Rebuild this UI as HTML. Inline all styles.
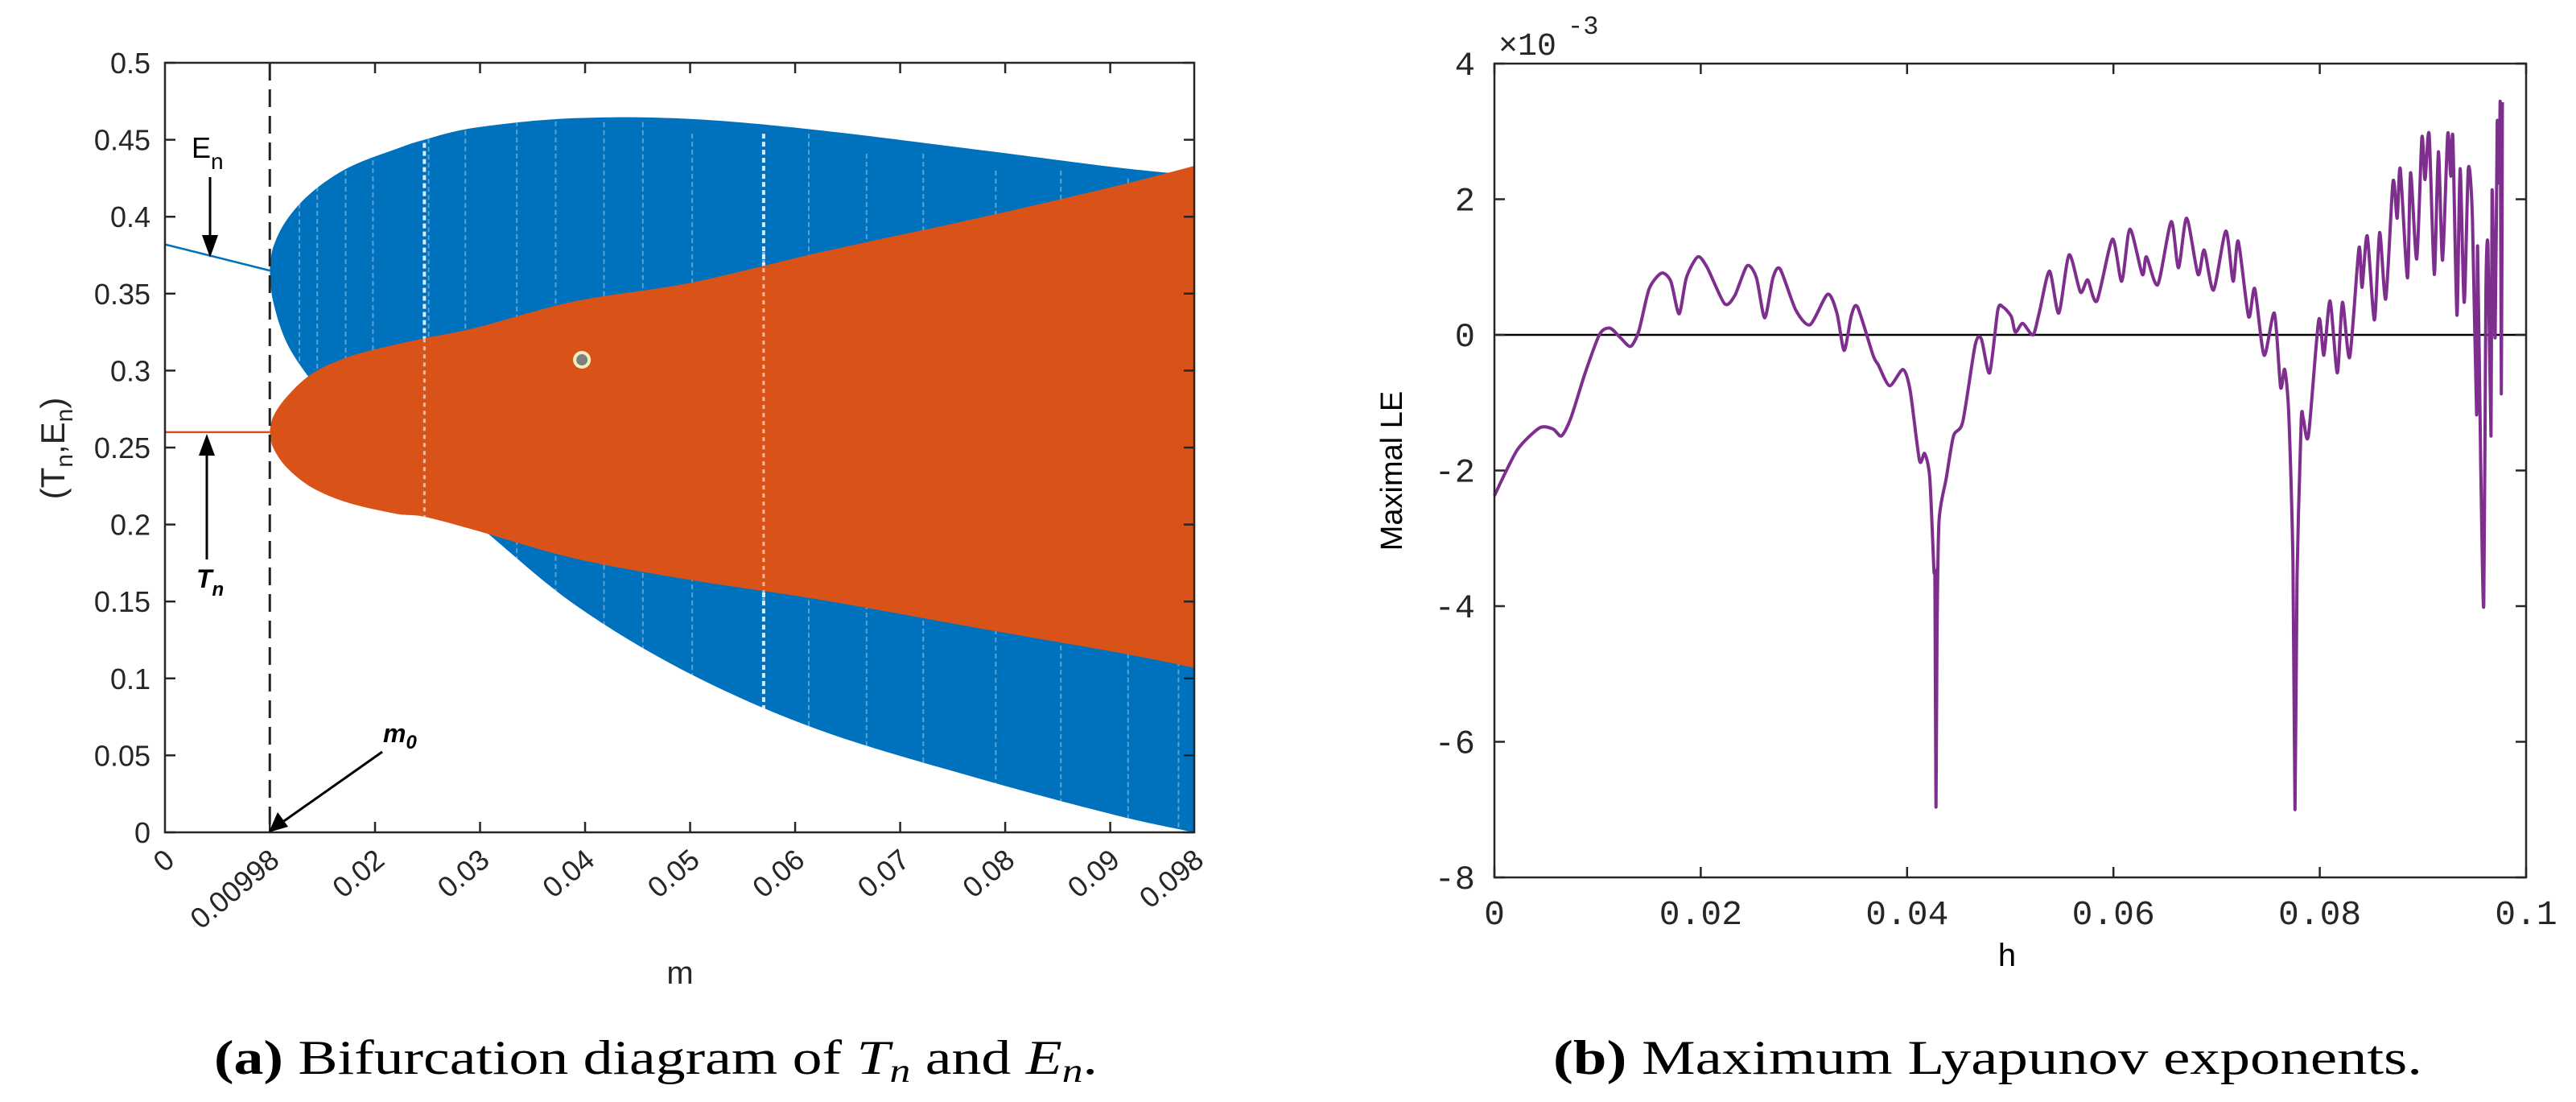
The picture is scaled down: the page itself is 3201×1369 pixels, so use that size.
<!DOCTYPE html>
<html><head><meta charset="utf-8"><style>
html,body{margin:0;padding:0;background:#fff;}
svg{display:block;}
</style></head><body>
<svg id="fig" width="3201" height="1369" viewBox="0 0 3201 1369" xmlns="http://www.w3.org/2000/svg">
<g id="left"></g>
<g id="right"></g>
<text x="815" y="1334" font-family="Liberation Serif, serif" font-size="60" text-anchor="middle" textLength="1098" lengthAdjust="spacingAndGlyphs"><tspan font-weight="bold">(a)</tspan> Bifurcation diagram of <tspan font-style="italic">T</tspan><tspan font-style="italic" font-size="42" dy="10">n</tspan><tspan dy="-10"> and </tspan><tspan font-style="italic">E</tspan><tspan font-style="italic" font-size="42" dy="10">n</tspan><tspan dy="-10">.</tspan></text>
<text x="2470" y="1334" font-family="Liberation Serif, serif" font-size="60" text-anchor="middle" textLength="1080" lengthAdjust="spacingAndGlyphs"><tspan font-weight="bold">(b)</tspan> Maximum Lyapunov exponents.</text>
</svg>
<script>
// ---------- Bifurcation data ----------
const mGrid   = [0.00998,0.0103,0.0116,0.014,0.0175,0.022,0.0247,0.0297,0.039,0.05,0.0625,0.078,0.0906,0.098];
const enUpper = [0.365,0.380,0.398,0.416,0.432,0.444,0.450,0.458,0.464,0.4635,0.456,0.443,0.432,0.427];
const enLower = [0.365,0.345,0.318,0.293,0.265,0.238,0.225,0.200,0.148,0.103,0.066,0.034,0.011,0.0];
const tnUpper = [0.26,0.270,0.283,0.298,0.309,0.317,0.321,0.328,0.345,0.357,0.377,0.400,0.420,0.433];
const tnLower = [0.26,0.250,0.237,0.224,0.214,0.207,0.205,0.196,0.178,0.164,0.151,0.132,0.117,0.107];
const streakM = [0.0128,0.0145,0.0172,0.0198,0.0247,0.0251,0.0286,0.0335,0.0372,0.0418,0.0455,0.0502,0.057,0.0613,0.0668,0.0722,0.0791,0.0853,0.0917,0.0965];
const enStart = [0.382,0.365];
const tnStart = [0.26,0.26];
const yTicksL = [0,0.05,0.1,0.15,0.2,0.25,0.3,0.35,0.4,0.45,0.5];
const yTickLabelsL = ["0","0.05","0.1","0.15","0.2","0.25","0.3","0.35","0.4","0.45","0.5"];
const xTicksL = [0,0.00998,0.02,0.03,0.04,0.05,0.06,0.07,0.08,0.09,0.098];
const xTickLabelsL = ["0","0.00998","0.02","0.03","0.04","0.05","0.06","0.07","0.08","0.09","0.098"];
// ---------- Lyapunov data ----------
const hVals = [0,0.0022,0.0044,0.0057,0.0065,0.0074,0.0088,0.0102,0.0112,0.0122,0.0132,0.014,0.015,0.0162,0.0171,0.0179,0.0186,0.0197,0.0206,0.0223,0.0233,0.0245,0.0254,0.0262,0.027,0.0277,0.0292,0.0306,0.0323,0.0332,0.0339,0.0346,0.0352,0.0367,0.0372,0.0383,0.0396,0.0403,0.0412,0.0417,0.0422,0.0426,0.0427,0.0428,0.0429,0.0431,0.0438,0.0445,0.0454,0.0466,0.0472,0.048,0.0488,0.0493,0.0501,0.0505,0.0512,0.0522,0.0528,0.0538,0.0547,0.0557,0.0568,0.0575,0.0584,0.0599,0.0608,0.0616,0.0628,0.0632,0.0643,0.0656,0.0663,0.0671,0.0682,0.0688,0.0697,0.0709,0.0716,0.0721,0.0731,0.0737,0.0746,0.0756,0.0762,0.0766,0.077,0.0774,0.0776,0.0778,0.0782,0.0784,0.0789,0.0799,0.0804,0.081,0.0817,0.0822,0.0829,0.0838,0.0841,0.0846,0.0853,0.0858,0.0864,0.0871,0.0875,0.0878,0.0885,0.0888,0.0894,0.0899,0.0902,0.0906,0.0911,0.0915,0.0919,0.0924,0.0927,0.0929,0.0933,0.0936,0.094,0.0944,0.0948,0.0952,0.0953,0.0956,0.0959,0.0961,0.0963,0.0966,0.0967,0.097,0.0972,0.0974,0.0975,0.0976,0.0977];
const leVals = [-2.37,-1.70,-1.37,-1.39,-1.49,-1.23,-0.56,0.01,0.10,-0.04,-0.17,0.06,0.68,0.91,0.79,0.31,0.84,1.15,1.0,0.46,0.58,1.02,0.84,0.25,0.84,0.97,0.37,0.15,0.60,0.32,-0.23,0.29,0.41,-0.30,-0.44,-0.75,-0.51,-0.82,-1.85,-1.75,-2.11,-3.46,-3.67,-6.96,-4.39,-2.74,-2.11,-1.49,-1.28,-0.15,-0.06,-0.56,0.37,0.41,0.27,0.04,0.17,0,0.32,0.94,0.32,1.18,0.63,0.81,0.50,1.41,0.79,1.56,0.89,1.15,0.74,1.67,0.99,1.72,0.89,1.25,0.66,1.53,0.79,1.38,0.27,0.68,-0.30,0.32,-0.77,-0.51,-1.18,-3.36,-7.0,-3.56,-1.28,-1.23,-1.49,0.22,-0.30,0.50,-0.56,0.48,-0.33,1.28,0.70,1.46,0.22,1.51,0.53,2.26,1.72,2.45,0.84,2.39,1.12,2.91,2.29,2.96,0.89,2.70,1.10,2.96,2.34,2.91,0.29,2.45,0.48,2.45,1.72,-1.18,1.31,-1.91,-3.98,0.58,1.31,-1.49,2.13,-0.04,3.12,2.24,3.38,-0.87,3.43];
const yTicksR = [-8,-6,-4,-2,0,2,4];
const yTickLabelsR = ["-8","-6","-4","-2","0","2","4"];
const xTicksR = [0,0.02,0.04,0.06,0.08,0.1];
const xTickLabelsR = ["0","0.02","0.04","0.06","0.08","0.1"];

const NS="http://www.w3.org/2000/svg";
function mk(parent,tag,attrs,text){const e=document.createElementNS(NS,tag);for(const k in attrs)e.setAttribute(k,attrs[k]);if(text!==undefined)e.textContent=text;parent.appendChild(e);return e;}
// Catmull-Rom smooth path through points (pts: [[x,y],...]); move=true starts with M
function smooth(pts,move,k){k=k||6;let d=move?'M'+pts[0][0].toFixed(1)+','+pts[0][1].toFixed(1):'L'+pts[0][0].toFixed(1)+','+pts[0][1].toFixed(1);
  for(let i=0;i<pts.length-1;i++){const p0=pts[Math.max(i-1,0)],p1=pts[i],p2=pts[i+1],p3=pts[Math.min(i+2,pts.length-1)];
    const c1=[p1[0]+(p2[0]-p0[0])/k,p1[1]+(p2[1]-p0[1])/k],c2=[p2[0]-(p3[0]-p1[0])/k,p2[1]-(p3[1]-p1[1])/k];
    d+='C'+c1[0].toFixed(1)+','+c1[1].toFixed(1)+' '+c2[0].toFixed(1)+','+c2[1].toFixed(1)+' '+p2[0].toFixed(1)+','+p2[1].toFixed(1);}
  return d;}

// ---------- Left chart ----------
const L=document.getElementById('left');
const LX0=205,LX1=1484,LY0=1034,LY1=78;
const xL=m=>LX0+m/0.098*(LX1-LX0);
const yL=v=>LY0-v/0.5*(LY0-LY1);
function band(up,lo){const a=mGrid.map((m,i)=>[xL(m),yL(up[i])]);const b=mGrid.map((m,i)=>[xL(m),yL(lo[i])]).reverse();return smooth(a,true)+smooth(b,false)+'Z';}
let e;
e=mk(L,'path',{d:band(enUpper,enLower),fill:'#0072BD'});


const sg=mk(L,'g',{});


streakM.forEach((m,i)=>{
  const idx=mGrid.findIndex(v=>v>=m);
  const s=mk(sg,'line',{x1:xL(m),x2:xL(m),y1:yL(enUpper[idx])+4,y2:yL(enLower[idx])-2,stroke:'#fff','stroke-width':(i===4||i===12)?4:2,'stroke-opacity':(i===4||i===12)?0.85:0.35,'stroke-dasharray':'6 4'});
  
  
});
e=mk(L,'path',{d:band(tnUpper,tnLower),fill:'#D95319'});


[4,12].forEach(i=>{const m=streakM[i];const idx=mGrid.findIndex(v=>v>=m);
  const s=mk(L,'line',{x1:xL(m),x2:xL(m),y1:yL(tnUpper[idx]),y2:yL(tnLower[idx]),stroke:'#fff','stroke-width':3,'stroke-opacity':0.6,'stroke-dasharray':'5 5'});
  
  });
e=mk(L,'line',{x1:xL(0),y1:yL(enStart[0]),x2:xL(0.00998),y2:yL(enStart[1]),stroke:'#0072BD','stroke-width':2.5});


e=mk(L,'line',{x1:xL(0),y1:yL(tnStart[0]),x2:xL(0.00998),y2:yL(tnStart[1]),stroke:'#D95319','stroke-width':2.5});


e=mk(L,'circle',{cx:xL(0.0397),cy:yL(0.307),r:9,fill:'#7f7f7f',stroke:'#f2efc0','stroke-width':4});


e=mk(L,'line',{x1:xL(0.00998),x2:xL(0.00998),y1:LY1,y2:LY0,stroke:'#222','stroke-width':3,'stroke-dasharray':'22 11'});


e=mk(L,'path',{d:`M${LX0},${LY1}H${LX1}V${LY0}H${LX0}Z`,fill:'none',stroke:'#262626','stroke-width':2.5});


yTicksL.forEach((v,i)=>{
  const y=yL(v);
  mk(L,'path',{d:`M${LX0},${y}h13M${LX1},${y}h-13`,stroke:'#262626','stroke-width':2.5});
  const t=mk(L,'text',{x:LX0-18,y:y+13,'font-family':'Liberation Sans, sans-serif','font-size':36,'text-anchor':'end',fill:'#262626'},yTickLabelsL[i]);
  
  
});
xTicksL.forEach((v,i)=>{
  const x=xL(v);
  if(i>0&&i<xTicksL.length-1)mk(L,'path',{d:`M${x},${LY0}v-13M${x},${LY1}v13`,stroke:'#262626','stroke-width':2.5});
  const t=mk(L,'text',{x:0,y:0,transform:`translate(${x+14},${LY0+38}) rotate(-40)`,'font-family':'Liberation Sans, sans-serif','font-size':36,'text-anchor':'end',fill:'#262626'},xTickLabelsL[i]);
  
  
});
e=mk(L,'text',{x:845,y:1222,'font-family':'Liberation Sans, sans-serif','font-size':40,'text-anchor':'middle',fill:'#262626'},'m');


e=mk(L,'text',{transform:'translate(80,557) rotate(-90)','font-family':'Liberation Sans, sans-serif','font-size':42,'text-anchor':'middle',fill:'#262626'});
e.innerHTML='(T<tspan font-size="30" dy="10">n</tspan><tspan dy="-10">,E</tspan><tspan font-size="30" dy="10">n</tspan><tspan dy="-10">)</tspan>';


// annotations
const ann=mk(L,'g',{});


e=mk(ann,'text',{x:238,y:196,'font-family':'Liberation Sans, sans-serif','font-size':36,fill:'#000'});
e.innerHTML='E<tspan font-size="28" dy="14">n</tspan>';


mk(ann,'line',{x1:261,y1:220,x2:261,y2:300,stroke:'#000','stroke-width':3});
mk(ann,'path',{d:'M251,292 L261,320 L271,292 Z',fill:'#000'});
mk(ann,'line',{x1:257,y1:695,x2:257,y2:560,stroke:'#000','stroke-width':3});
mk(ann,'path',{d:'M247,566 L257,539 L267,566 Z',fill:'#000'});
e=mk(ann,'text',{x:244,y:730,'font-family':'Liberation Sans, sans-serif','font-size':32,'font-weight':'bold','font-style':'italic',fill:'#000'});
e.innerHTML='T<tspan font-size="24" dy="10">n</tspan>';


mk(ann,'line',{x1:475,y1:934,x2:350,y2:1022,stroke:'#000','stroke-width':3});
mk(ann,'path',{d:'M334,1034 L345,1009 L358,1027 Z',fill:'#000'});
e=mk(ann,'text',{x:476,y:922,'font-family':'Liberation Sans, sans-serif','font-size':32,'font-weight':'bold','font-style':'italic',fill:'#000'});
e.innerHTML='m<tspan font-size="24" dy="8">0</tspan>';



// ---------- Right chart ----------
const R=document.getElementById('right');
const RX0=1857,RX1=3139,RY0=1090,RY1=79;
const xR=h=>RX0+h/0.1*(RX1-RX0);
const yR=v=>RY0-(v+8)/12*(RY0-RY1);
e=mk(R,'line',{x1:RX0,x2:RX1,y1:yR(0),y2:yR(0),stroke:'#000','stroke-width':2.5});


const lePts=hVals.map((h,i)=>[xR(h),yR(leVals[i])]);
e=mk(R,'path',{d:smooth(lePts,true,8),fill:'none',stroke:'#7E2F8E','stroke-width':4,'stroke-linejoin':'round'});


e=mk(R,'path',{d:`M${RX0},${RY1}H${RX1}V${RY0}H${RX0}Z`,fill:'none',stroke:'#262626','stroke-width':2.5});


yTicksR.forEach((v,i)=>{
  const y=yR(v);
  mk(R,'path',{d:`M${RX0},${y}h13M${RX1},${y}h-13`,stroke:'#262626','stroke-width':2.5});
  const t=mk(R,'text',{x:RX0-24,y:y+14,'font-family':'Liberation Mono, monospace','font-size':42,'text-anchor':'end',fill:'#262626'},yTickLabelsR[i]);
  
  
});
xTicksR.forEach((v,i)=>{
  const x=xR(v);
  mk(R,'path',{d:`M${x},${RY0}v-13M${x},${RY1}v13`,stroke:'#262626','stroke-width':2.5});
  const t=mk(R,'text',{x:x,y:RY0+58,'font-family':'Liberation Mono, monospace','font-size':43,'text-anchor':'middle',fill:'#262626'},xTickLabelsR[i]);
  
  
});
e=mk(R,'text',{x:1862,y:68,'font-family':'Liberation Mono, monospace','font-size':40,fill:'#262626'});
e.innerHTML='×10<tspan font-size="32" dy="-26" dx="14">-3</tspan>';


e=mk(R,'text',{transform:'translate(1742,585) rotate(-90)','font-family':'Liberation Sans, sans-serif','font-size':38,'text-anchor':'middle',fill:'#000'},'Maximal LE');


e=mk(R,'text',{x:2494,y:1200,'font-family':'Liberation Sans, sans-serif','font-size':40,'text-anchor':'middle',fill:'#000'},'h');


</script>
</body></html>
